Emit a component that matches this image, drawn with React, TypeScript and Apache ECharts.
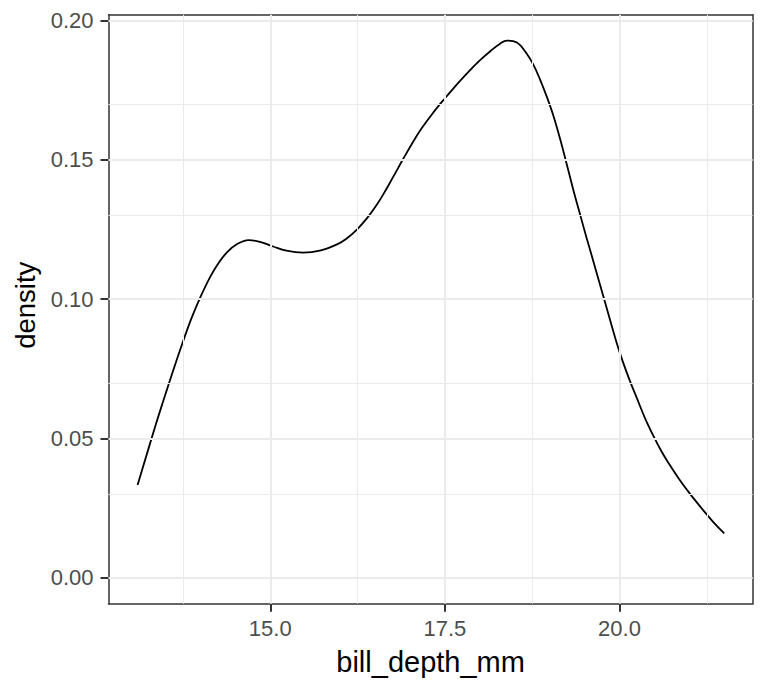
import React, { useEffect, useRef } from "react";
import * as echarts from "echarts";

// density estimate of bill_depth_mm
const billDepth = [
  13.1, 13.36, 13.47, 13.61, 13.73, 13.87, 13.99, 14.14, 14.26, 14.38, 14.52,
  14.69, 14.85, 15.04, 15.23, 15.47, 15.71, 15.95, 16.09, 16.24, 16.38, 16.52,
  16.62, 16.76, 16.9, 17.05, 17.17, 17.31, 17.48, 17.62, 17.81, 18.0, 18.15,
  18.29, 18.39, 18.53, 18.67, 18.77, 18.86, 18.96, 19.05, 19.15, 19.24, 19.34,
  19.43, 19.53, 19.62, 19.72, 19.86, 19.96, 20.05, 20.15, 20.25, 20.36, 20.48,
  20.6, 20.72, 20.86, 21.01, 21.2, 21.34, 21.5,
];
const density = [
  0.0333, 0.0549, 0.0636, 0.0744, 0.0833, 0.093, 0.1002, 0.108, 0.113, 0.1168,
  0.1197, 0.1212, 0.1206, 0.1189, 0.1174, 0.1167, 0.1174, 0.1196, 0.1217,
  0.125, 0.1289, 0.1337, 0.1377, 0.1439, 0.1502, 0.1567, 0.1614, 0.1662,
  0.1715, 0.1756, 0.1809, 0.1857, 0.189, 0.1917, 0.1928, 0.1921, 0.1882,
  0.184, 0.179, 0.1726, 0.1661, 0.1575, 0.1489, 0.1391, 0.1309, 0.1219, 0.1141,
  0.1053, 0.093, 0.0843, 0.0774, 0.0706, 0.0644, 0.0576, 0.0512, 0.0454,
  0.0405, 0.0352, 0.0301, 0.0242, 0.0201, 0.0159,
];

const xMajorTicks = [15, 17.5, 20];
const xMinorTicks = [13.75, 16.25, 18.75, 21.25];
const yMajorTicks = [0, 0.05, 0.1, 0.15, 0.2];
const yMinorTicks = [0.025, 0.075, 0.125, 0.175];
const xRange = [12.684, 21.907];
const yRange = [-0.0093, 0.2021];

const FONT = "'Liberation Sans', Arial, sans-serif";

export default function App() {
  const ref = useRef<HTMLDivElement>(null);

  useEffect(() => {
    if (!ref.current) return;
    const chart = echarts.init(ref.current, null, { renderer: "svg" });

    const gridLine = (w: number) => ({
      color: "#EBEBEB",
      width: w,
      type: "solid" as const,
    });

    const markData = [
      ...xMinorTicks.map((v) => ({ xAxis: v, lineStyle: gridLine(1) })),
      ...yMinorTicks.map((v) => ({ yAxis: v, lineStyle: gridLine(1) })),
      ...xMajorTicks.map((v) => ({ xAxis: v, lineStyle: gridLine(2) })),
      ...yMajorTicks.map((v) => ({ yAxis: v, lineStyle: gridLine(2) })),
    ];

    const borderLine = { show: true, onZero: false, lineStyle: { color: "#333333", width: 1.5 } };
    const hidden = { show: false };

    chart.setOption({
      animation: false,
      backgroundColor: "#ffffff",
      grid: { left: 108.5, top: 14.7, right: 15.3, bottom: 87.3, containLabel: false },
      xAxis: [
        {
          type: "value",
          min: xRange[0],
          max: xRange[1],
          z: 3,
          axisLine: borderLine,
          axisTick: {
            show: true,
            customValues: xMajorTicks,
            length: 8,
            lineStyle: { color: "#333333", width: 2 },
          },
          axisLabel: {
            customValues: xMajorTicks,
            formatter: (v: number) => v.toFixed(1),
            color: "#4D4D4D",
            fontSize: 22,
            fontFamily: FONT,
            margin: 14,
          },
          splitLine: hidden,
          name: "bill_depth_mm",
          nameLocation: "middle",
          nameGap: 44,
          nameTextStyle: { color: "#000000", fontSize: 29, fontFamily: FONT },
        },
        {
          type: "value",
          position: "top",
          min: xRange[0],
          max: xRange[1],
          z: 3,
          axisLine: borderLine,
          axisTick: hidden,
          axisLabel: hidden,
          splitLine: hidden,
        },
      ],
      yAxis: [
        {
          type: "value",
          min: yRange[0],
          max: yRange[1],
          z: 3,
          axisLine: borderLine,
          axisTick: {
            show: true,
            customValues: yMajorTicks,
            length: 8,
            lineStyle: { color: "#333333", width: 2 },
          },
          axisLabel: {
            customValues: yMajorTicks,
            formatter: (v: number) => v.toFixed(2),
            color: "#4D4D4D",
            fontSize: 22,
            fontFamily: FONT,
            margin: 15,
          },
          splitLine: hidden,
          name: "density",
          nameLocation: "middle",
          nameGap: 64,
          nameTextStyle: {
            color: "#000000",
            fontSize: 27.5,
            fontFamily: FONT,
            padding: [0, 0, 0, 8],
          },
        },
        {
          type: "value",
          position: "right",
          min: yRange[0],
          max: yRange[1],
          z: 3,
          axisLine: borderLine,
          axisTick: hidden,
          axisLabel: hidden,
          splitLine: hidden,
        },
      ],
      series: [
        {
          type: "line",
          z: 1,
          data: [],
          silent: true,
          markLine: {
            silent: true,
            symbol: ["none", "none"],
            label: { show: false },
            emphasis: { disabled: true },
            data: markData,
          },
        },
        {
          type: "line",
          z: 4,
          data: billDepth.map((x, i) => [x, density[i]]),
          showSymbol: false,
          symbol: "none",
          smooth: 0.4,
          lineStyle: { color: "#000000", width: 1.8 },
          silent: true,
        },
      ],
    });

    return () => chart.dispose();
  }, []);

  return (
    <div
      ref={ref}
      style={{ position: "absolute", left: 0, top: 0, width: 768, height: 691 }}
    />
  );
}
